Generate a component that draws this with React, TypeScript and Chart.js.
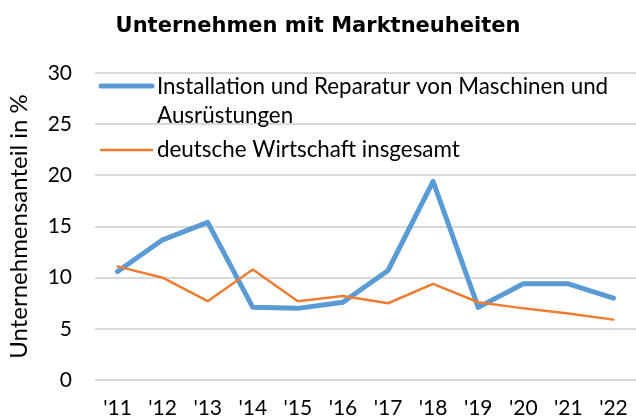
import React, { useEffect, useRef } from "react";
import { Chart, registerables } from "chart.js";

Chart.register(...registerables);

const categories = ["'11", "'12", "'13", "'14", "'15", "'16", "'17", "'18", "'19", "'20", "'21", "'22"];
const installationValues = [10.6, 13.7, 15.4, 7.1, 7.0, 7.6, 10.7, 19.4, 7.1, 9.4, 9.4, 8.0];
const gesamtValues = [11.1, 10.0, 7.7, 10.8, 7.7, 8.2, 7.5, 9.4, 7.6, 7.0, 6.5, 5.9];
const seriesNames = ["Installation und Reparatur von Maschinen und", "Ausrüstungen"];
const seriesName2 = "deutsche Wirtschaft insgesamt";
const chartTitle = "Unternehmen mit Marktneuheiten";
const yAxisTitle = "Unternehmensanteil in %";

const BLUE = "#5B9BD5";
const ORANGE = "#ED7D31";
const FONT = "Lato";

const legendPlugin = {
  id: "customLegend",
  afterDraw(chart: any) {
    const { ctx, chartArea } = chart;
    const L = chartArea.left;
    const T = chartArea.top;
    ctx.save();
    ctx.lineCap = "round";
    ctx.strokeStyle = BLUE;
    ctx.lineWidth = 5;
    ctx.beginPath();
    ctx.moveTo(L + 6, T + 13);
    ctx.lineTo(L + 57, T + 13);
    ctx.stroke();
    ctx.strokeStyle = ORANGE;
    ctx.lineWidth = 2.5;
    ctx.beginPath();
    ctx.moveTo(L + 6, T + 77);
    ctx.lineTo(L + 57, T + 77);
    ctx.stroke();
    ctx.fillStyle = "#000";
    ctx.font = `22.4px ${FONT}`;
    ctx.textBaseline = "middle";
    ctx.textAlign = "left";
    ctx.fillText(seriesNames[0], L + 62, T + 14);
    ctx.fillText(seriesNames[1], L + 62, T + 43);
    ctx.fillText(seriesName2, L + 62, T + 77);
    ctx.restore();
  },
};

export default function App() {
  const canvasRef = useRef<HTMLCanvasElement | null>(null);

  useEffect(() => {
    if (!canvasRef.current) return;
    const chart = new Chart(canvasRef.current, {
      type: "line",
      data: {
        labels: categories,
        datasets: [
          {
            label: seriesNames.join(" "),
            data: installationValues,
            borderColor: BLUE,
            backgroundColor: BLUE,
            borderWidth: 5,
            pointRadius: 0,
            tension: 0,
            borderCapStyle: "round",
            borderJoinStyle: "round",
            order: 1,
          },
          {
            label: seriesName2,
            data: gesamtValues,
            borderColor: ORANGE,
            backgroundColor: ORANGE,
            borderWidth: 2.5,
            pointRadius: 0,
            tension: 0,
            borderCapStyle: "round",
            borderJoinStyle: "round",
            order: 0,
          },
        ],
      },
      options: {
        responsive: false,
        animation: false,
        layout: { padding: 0 },
        plugins: {
          legend: { display: false },
          tooltip: { enabled: false },
          title: {
            display: true,
            text: chartTitle,
            color: "#000",
            font: { family: "DejaVu Sans", size: 21, weight: "bold", lineHeight: 1.2 },
            padding: { top: 14, bottom: 33.8 },
          },
        },
        scales: {
          x: {
            offset: true,
            grid: { display: false },
            border: { display: false },
            ticks: { color: "#000", font: { family: FONT, size: 21 }, padding: 8, maxRotation: 0, autoSkip: false },
            afterFit: (s: any) => {
              s.height = 40;
            },
          },
          y: {
            min: 0,
            max: 30,
            grid: { color: "#D9D9D9", lineWidth: 2, drawTicks: false },
            border: { display: false },
            ticks: { stepSize: 5, color: "#000", font: { family: FONT, size: 21 }, padding: 23 },
            title: {
              display: true,
              text: yAxisTitle,
              color: "#000",
              font: { family: FONT, size: 24 },
              padding: { top: 5, bottom: 0 },
            },
            afterFit: (s: any) => {
              s.width = 95;
            },
          },
        },
      },
      plugins: [legendPlugin],
    });
    return () => chart.destroy();
  }, []);

  return (
    <div style={{ position: "fixed", left: 0, top: 0, width: 636, height: 420, background: "#fff" }}>
      <canvas ref={canvasRef} width={636} height={420} />
    </div>
  );
}
